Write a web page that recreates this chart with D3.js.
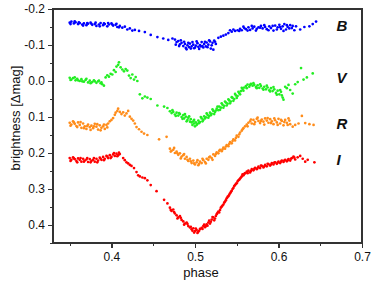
<!DOCTYPE html>
<html>
<head>
<meta charset="utf-8">
<script src="https://cdn.jsdelivr.net/npm/d3@7"></script>
<style>
  body { margin: 0; background: #fff; }
  svg text { font-family: "Liberation Sans", Arial, sans-serif; }
  .axis path { display: none; }
  .axis line { stroke: #333; stroke-width: 1.2; shape-rendering: crispEdges; }
  .axis text { font-size: 12px; fill: #111; }
</style>
</head>
<body>
<svg width="375" height="283"></svg>
<script>
// phase, brightness [dmag]
var bandB = [[0.350,-0.162],[0.352,-0.165],[0.355,-0.160],[0.357,-0.163],[0.360,-0.158],[0.362,-0.161],[0.365,-0.157],[0.367,-0.160],[0.370,-0.155],[0.372,-0.159],[0.375,-0.162],[0.377,-0.156],[0.380,-0.158],[0.382,-0.153],[0.385,-0.157],[0.387,-0.161],[0.390,-0.155],[0.392,-0.158],[0.395,-0.152],[0.397,-0.157],[0.400,-0.160],[0.402,-0.154],[0.405,-0.156],[0.407,-0.150],[0.410,-0.153],
  [0.413,-0.148],[0.416,-0.151],[0.419,-0.143],[0.422,-0.146],[0.425,-0.140],[0.428,-0.142],[0.433,-0.139],[0.440,-0.136],[0.447,-0.128],[0.455,-0.122],[0.462,-0.118],[0.468,-0.114],[0.473,-0.118],
  [0.476,-0.115],[0.478,-0.108],[0.480,-0.111],[0.482,-0.102],[0.484,-0.106],[0.486,-0.097],[0.488,-0.103],[0.489,-0.092],[0.491,-0.099],[0.493,-0.094],[0.494,-0.104],[0.496,-0.096],[0.498,-0.101],[0.499,-0.091],[0.501,-0.098],[0.503,-0.105],[0.504,-0.095],[0.506,-0.100],[0.508,-0.108],[0.509,-0.097],[0.511,-0.103],[0.513,-0.096],[0.514,-0.107],[0.516,-0.101],[0.518,-0.110],[0.519,-0.090],[0.521,-0.106],[0.523,-0.112],[0.525,-0.103],
  [0.528,-0.120],[0.531,-0.123],[0.534,-0.126],[0.537,-0.129],[0.540,-0.133],[0.542,-0.141],[0.544,-0.137],[0.546,-0.143],[0.548,-0.139],
  [0.551,-0.141],[0.554,-0.145],[0.556,-0.141],[0.559,-0.147],[0.561,-0.144],[0.564,-0.149],[0.566,-0.142],[0.569,-0.146],[0.571,-0.151],[0.574,-0.145],[0.576,-0.149],[0.579,-0.153],[0.581,-0.146],[0.584,-0.150],[0.586,-0.144],[0.589,-0.152],[0.591,-0.147],[0.594,-0.140],[0.596,-0.154],[0.599,-0.149],[0.601,-0.156],[0.603,-0.145],[0.605,-0.152],[0.607,-0.158],[0.609,-0.143],[0.611,-0.150],[0.614,-0.155],[0.616,-0.147],[0.619,-0.141],[0.621,-0.152],
  [0.626,-0.143],[0.631,-0.150],[0.637,-0.152],[0.641,-0.158],[0.645,-0.165],
  [0.351,-0.158],[0.356,-0.166],[0.361,-0.163],[0.366,-0.154],[0.371,-0.161],[0.376,-0.159],[0.381,-0.162],[0.386,-0.152],[0.391,-0.160],[0.396,-0.161],[0.401,-0.157],[0.406,-0.159],[0.409,-0.149],
  [0.477,-0.101],[0.481,-0.097],[0.483,-0.113],[0.487,-0.109],[0.490,-0.088],[0.492,-0.106],[0.495,-0.090],[0.497,-0.108],[0.500,-0.093],[0.502,-0.110],[0.505,-0.089],[0.507,-0.096],[0.510,-0.093],[0.512,-0.109],[0.515,-0.094],[0.517,-0.113],[0.520,-0.099],[0.522,-0.087],[0.524,-0.109],
  [0.553,-0.139],[0.558,-0.151],[0.563,-0.140],[0.568,-0.153],[0.573,-0.140],[0.578,-0.148],[0.583,-0.155],[0.588,-0.141],[0.593,-0.153],[0.598,-0.143],[0.602,-0.150],[0.606,-0.139],[0.610,-0.155],[0.613,-0.146],[0.617,-0.153]];

var bandV = [[0.350,-0.009],[0.352,-0.004],[0.354,-0.008],[0.357,-0.002],[0.359,-0.006],[0.362,0.000],[0.364,-0.005],[0.367,0.002],[0.369,-0.003],[0.372,0.004],[0.374,-0.001],[0.377,0.003],[0.379,-0.002],[0.382,0.005],[0.384,0.001],[0.387,0.006],[0.389,0.009],[0.391,0.013],
  [0.393,-0.010],[0.395,-0.016],[0.397,-0.012],[0.399,-0.020],[0.401,-0.018],[0.403,-0.030],[0.405,-0.025],[0.406,-0.040],[0.408,-0.045],[0.409,-0.052],[0.411,-0.038],[0.413,-0.032],[0.415,-0.027],[0.417,-0.033],[0.419,-0.029],[0.421,-0.015],[0.423,-0.008],[0.425,-0.018],[0.427,-0.004],[0.429,-0.011],[0.431,0.000],
  [0.434,0.037],[0.437,0.048],[0.440,0.043],[0.443,0.046],[0.447,0.050],[0.455,0.068],[0.463,0.071],[0.467,0.075],
  [0.470,0.084],[0.472,0.089],[0.474,0.086],[0.476,0.093],[0.478,0.088],[0.480,0.096],[0.482,0.092],[0.484,0.100],[0.486,0.095],[0.487,0.104],[0.489,0.099],[0.491,0.108],[0.492,0.102],[0.494,0.113],[0.495,0.106],[0.497,0.122],[0.498,0.112],[0.499,0.118],[0.500,0.126],[0.501,0.115],[0.503,0.119],[0.504,0.110],[0.506,0.114],
  [0.508,0.104],[0.510,0.108],[0.511,0.098],[0.513,0.101],[0.515,0.094],[0.517,0.097],[0.518,0.088],[0.520,0.091],[0.522,0.083],[0.524,0.086],[0.526,0.077],[0.528,0.081],[0.529,0.071],[0.531,0.074],[0.533,0.066],[0.535,0.069],[0.537,0.060],[0.539,0.063],[0.541,0.054],[0.543,0.057],[0.545,0.047],[0.547,0.050],[0.549,0.040],[0.551,0.042],[0.553,0.033],[0.555,0.028],[0.557,0.022],[0.559,0.018],
  [0.561,0.014],[0.563,0.010],[0.565,0.016],[0.567,0.008],[0.569,0.013],[0.571,0.011],[0.573,0.017],[0.575,0.012],[0.577,0.019],[0.579,0.014],[0.581,0.021],[0.583,0.016],[0.585,0.023],[0.587,0.018],[0.589,0.026],[0.591,0.020],[0.593,0.028],[0.595,0.023],[0.597,0.033],[0.599,0.027],[0.601,0.037],[0.603,0.030],[0.605,0.046],[0.606,0.052],
  [0.608,0.016],[0.610,0.020],[0.612,0.011],[0.614,0.025],[0.617,0.035],[0.620,0.009],[0.623,0.003],[0.627,-0.036],[0.630,-0.004],[0.634,-0.010],[0.641,-0.021],
  [0.351,-0.003],[0.356,-0.010],[0.360,-0.002],[0.365,0.001],[0.370,-0.006],[0.375,0.006],[0.380,0.001],[0.385,-0.001],[0.388,0.004],
  [0.473,0.081],[0.477,0.097],[0.481,0.089],[0.485,0.105],[0.488,0.092],[0.490,0.112],[0.493,0.098],[0.496,0.115],[0.499,0.108],[0.502,0.122],[0.505,0.117],[0.507,0.100],
  [0.509,0.112],[0.512,0.104],[0.514,0.090],[0.516,0.102],[0.519,0.095],[0.521,0.079],[0.523,0.092],[0.525,0.082],[0.527,0.071],[0.530,0.080],[0.532,0.062],[0.534,0.074],[0.536,0.057],[0.538,0.068],[0.540,0.051],[0.542,0.062],[0.544,0.045],[0.546,0.055],[0.548,0.036],[0.550,0.047],[0.552,0.030],[0.554,0.037],[0.556,0.019],[0.558,0.027],
  [0.562,0.020],[0.566,0.011],[0.570,0.006],[0.574,0.020],[0.578,0.009],[0.582,0.024],[0.586,0.013],[0.590,0.029],[0.594,0.017],[0.598,0.038],[0.602,0.025],[0.604,0.040]];

var bandR = [[0.350,0.116],[0.352,0.121],[0.354,0.112],[0.356,0.119],[0.358,0.125],[0.360,0.115],[0.362,0.122],[0.364,0.130],[0.366,0.118],[0.368,0.126],[0.370,0.133],[0.372,0.121],[0.374,0.128],[0.376,0.124],[0.378,0.131],[0.380,0.119],[0.382,0.127],[0.384,0.135],[0.386,0.123],[0.388,0.130],[0.390,0.126],[0.392,0.133],[0.394,0.122],[0.396,0.118],
  [0.398,0.112],[0.400,0.108],[0.402,0.103],[0.404,0.094],[0.405,0.088],[0.407,0.083],[0.408,0.077],[0.410,0.086],[0.412,0.092],[0.414,0.087],[0.416,0.096],[0.418,0.090],[0.420,0.083],[0.422,0.099],[0.424,0.105],[0.426,0.110],[0.428,0.118],[0.430,0.128],[0.433,0.134],[0.436,0.141],[0.439,0.146],[0.443,0.150],
  [0.457,0.162],[0.466,0.155],
  [0.470,0.188],[0.472,0.194],[0.474,0.191],[0.476,0.200],[0.478,0.196],[0.480,0.205],[0.482,0.201],[0.484,0.210],[0.486,0.206],[0.488,0.216],[0.490,0.211],[0.492,0.222],[0.494,0.216],[0.496,0.228],[0.498,0.221],[0.500,0.232],[0.502,0.226],[0.504,0.234],[0.506,0.224],
  [0.508,0.228],[0.510,0.220],[0.512,0.225],[0.514,0.216],[0.516,0.219],[0.518,0.210],[0.520,0.214],[0.522,0.204],[0.524,0.208],[0.526,0.198],[0.528,0.201],[0.530,0.191],[0.532,0.195],[0.534,0.185],[0.536,0.188],[0.538,0.178],[0.540,0.181],[0.542,0.170],[0.544,0.173],[0.546,0.162],[0.548,0.165],[0.550,0.152],[0.552,0.155],[0.554,0.143],[0.556,0.138],[0.558,0.131],[0.560,0.126],
  [0.562,0.121],[0.564,0.116],[0.566,0.112],[0.568,0.118],[0.570,0.108],[0.572,0.114],[0.574,0.105],[0.576,0.111],[0.578,0.117],[0.580,0.107],[0.582,0.113],[0.584,0.104],[0.586,0.110],[0.588,0.116],[0.590,0.106],[0.592,0.112],[0.594,0.120],[0.596,0.109],[0.598,0.115],[0.600,0.105],[0.602,0.118],[0.604,0.111],[0.606,0.123],[0.608,0.108],[0.610,0.116],[0.612,0.104],[0.614,0.120],
  [0.617,0.127],[0.620,0.122],[0.624,0.118],[0.628,0.097],[0.632,0.117],[0.637,0.120],[0.642,0.122],
  [0.351,0.124],[0.355,0.115],[0.359,0.128],[0.363,0.114],[0.367,0.131],[0.371,0.125],[0.375,0.136],[0.379,0.126],[0.383,0.120],[0.387,0.137],[0.391,0.121],[0.395,0.129],
  [0.471,0.196],[0.475,0.186],[0.479,0.201],[0.483,0.215],[0.487,0.203],[0.491,0.219],[0.495,0.223],[0.499,0.229],[0.503,0.220],[0.505,0.230],
  [0.509,0.216],[0.513,0.229],[0.517,0.212],[0.521,0.219],[0.525,0.203],[0.529,0.194],[0.533,0.190],[0.537,0.182],[0.541,0.175],[0.545,0.167],[0.549,0.158],[0.553,0.148],[0.557,0.134],
  [0.563,0.126],[0.567,0.107],[0.571,0.120],[0.575,0.102],[0.579,0.111],[0.583,0.121],[0.587,0.103],[0.591,0.117],[0.595,0.104],[0.599,0.122],[0.603,0.108],[0.607,0.114],[0.611,0.122],[0.613,0.110]];

var bandI = [[0.350,0.214],[0.352,0.219],[0.354,0.212],[0.356,0.217],[0.358,0.222],[0.360,0.215],[0.362,0.219],[0.364,0.224],[0.366,0.216],[0.368,0.221],[0.370,0.218],[0.372,0.225],[0.374,0.217],[0.376,0.222],[0.378,0.219],[0.380,0.224],[0.382,0.216],[0.384,0.221],[0.386,0.213],[0.388,0.219],[0.390,0.211],[0.392,0.216],[0.394,0.208],[0.396,0.214],[0.398,0.206],[0.400,0.211],[0.402,0.204],[0.404,0.208],[0.406,0.202],[0.408,0.206],[0.410,0.203],
  [0.414,0.214],[0.416,0.220],[0.418,0.226],[0.420,0.229],[0.422,0.233],[0.424,0.236],[0.427,0.242],[0.430,0.253],[0.432,0.262],[0.434,0.265],[0.437,0.268],[0.440,0.270],[0.443,0.276],[0.447,0.289],[0.454,0.306],[0.463,0.330],[0.467,0.340],
  [0.470,0.352],[0.472,0.361],[0.474,0.357],[0.476,0.368],[0.478,0.373],[0.480,0.379],[0.482,0.375],[0.484,0.386],[0.486,0.390],[0.488,0.396],[0.490,0.393],[0.492,0.403],[0.494,0.407],[0.496,0.412],[0.498,0.409],[0.500,0.417],[0.502,0.414],[0.504,0.419],[0.506,0.411],
  [0.508,0.408],[0.510,0.403],[0.512,0.406],[0.514,0.398],[0.516,0.393],[0.518,0.396],[0.520,0.385],[0.522,0.379],[0.524,0.382],[0.526,0.370],[0.528,0.363],[0.530,0.358],[0.532,0.349],[0.534,0.343],[0.536,0.335],[0.538,0.326],[0.540,0.320],[0.542,0.312],[0.544,0.305],[0.546,0.297],[0.548,0.289],[0.550,0.284],[0.552,0.276],[0.554,0.271],[0.556,0.265],[0.558,0.262],[0.560,0.256],
  [0.562,0.252],[0.564,0.249],[0.566,0.254],[0.568,0.245],[0.570,0.248],[0.572,0.241],[0.574,0.245],[0.576,0.238],[0.578,0.242],[0.580,0.236],[0.582,0.240],[0.584,0.233],[0.586,0.237],[0.588,0.231],[0.590,0.235],[0.592,0.228],[0.594,0.232],[0.596,0.226],[0.598,0.230],[0.600,0.224],[0.602,0.228],[0.604,0.221],[0.606,0.225],[0.608,0.219],[0.610,0.223],[0.612,0.217],[0.614,0.221],[0.616,0.214],[0.618,0.210],[0.620,0.218],[0.623,0.212],[0.626,0.208],[0.629,0.216],[0.632,0.224],[0.635,0.219],[0.643,0.226],
  [0.351,0.222],[0.355,0.215],[0.359,0.226],[0.363,0.214],[0.367,0.224],[0.371,0.214],[0.375,0.226],[0.379,0.214],[0.383,0.226],[0.387,0.216],[0.391,0.220],[0.395,0.210],[0.399,0.214],[0.403,0.200],[0.407,0.209],[0.409,0.199],
  [0.471,0.358],[0.475,0.364],[0.479,0.382],[0.483,0.380],[0.487,0.399],[0.491,0.397],[0.495,0.405],[0.497,0.416],[0.499,0.421],[0.501,0.410],[0.503,0.422],[0.505,0.416],
  [0.509,0.411],[0.511,0.399],[0.513,0.403],[0.515,0.402],[0.517,0.388],[0.519,0.391],[0.521,0.378],[0.523,0.387],[0.525,0.375],[0.527,0.366],[0.529,0.365],[0.531,0.352],[0.533,0.346],[0.535,0.338],[0.537,0.331],[0.539,0.322],[0.541,0.316],[0.543,0.308],[0.545,0.300],[0.547,0.292],[0.549,0.286],[0.551,0.279],[0.553,0.274],[0.555,0.268],[0.557,0.259],[0.559,0.258],
  [0.563,0.256],[0.567,0.250],[0.571,0.244],[0.575,0.242],[0.579,0.235],[0.583,0.237],[0.587,0.230],[0.591,0.232],[0.595,0.227],[0.599,0.227],[0.603,0.224],[0.607,0.221],[0.611,0.220],[0.615,0.216],[0.619,0.213]];

var bandNames = ["B", "V", "R", "I"];
var bandColors = ["#0000ff", "#22ee22", "#ff8c1a", "#ff0000"];
// label anchor (phase, baseline in dmag)
var bandLabelPos = [[0.66, -0.140], [0.66, 0.006], [0.66, 0.133], [0.66, 0.233]];

var xMajor = [0.4, 0.5, 0.6, 0.7];
var xMinor = [0.35, 0.45, 0.55, 0.65];
var xLabels = ["0.4", "0.5", "0.6", "0.7"];
var yMajor = [-0.2, -0.1, 0.0, 0.1, 0.2, 0.3, 0.4];
var yMinor = [-0.15, -0.05, 0.05, 0.15, 0.25, 0.35, 0.45];
var yLabels = ["-0.2", "-0.1", "0.0", "0.1", "0.2", "0.3", "0.4"];

var svg = d3.select("svg"),
    margin = {top: 9, right: 13, bottom: 40, left: 53},
    width = +svg.attr("width") - margin.left - margin.right,
    height = +svg.attr("height") - margin.top - margin.bottom,
    g = svg.append("g").attr("transform", "translate(" + margin.left + "," + margin.top + ")");

var x = d3.scaleLinear().domain([0.33, 0.7]).range([0, width]);
var y = d3.scaleLinear().domain([-0.2, 0.45]).range([0, height]);

// axes
g.append("g").attr("class", "axis")
    .attr("transform", "translate(0," + height + ")")
    .call(d3.axisBottom(x).tickValues(xMajor).tickSize(5).tickPadding(4)
        .tickFormat(function (d, i) { return xLabels[i]; }));
g.append("g").attr("class", "axis")
    .attr("transform", "translate(0," + height + ")")
    .call(d3.axisBottom(x).tickValues(xMinor).tickSize(3).tickFormat(""));
g.append("g").attr("class", "axis")
    .call(d3.axisLeft(y).tickValues(yMajor).tickSize(5).tickPadding(3)
        .tickFormat(function (d, i) { return yLabels[i]; }));
g.append("g").attr("class", "axis")
    .call(d3.axisLeft(y).tickValues(yMinor).tickSize(3).tickFormat(""));

// frame
g.append("rect")
    .attr("width", width)
    .attr("height", height)
    .attr("fill", "none")
    .attr("stroke", "#333")
    .attr("stroke-width", 1.2)
    .attr("shape-rendering", "crispEdges");

var bands = [bandB, bandV, bandR, bandI];
bands.forEach(function (data, k) {
    g.append("g").selectAll("circle")
        .data(data)
        .enter().append("circle")
        .attr("cx", function (d) { return x(d[0]); })
        .attr("cy", function (d) { return y(d[1]); })
        .attr("r", 1.35)
        .attr("fill", bandColors[k]);
});

g.selectAll(".band-label")
    .data(bandNames)
    .enter().append("text")
    .attr("class", "band-label")
    .attr("x", function (d, i) { return x(bandLabelPos[i][0]) + 8; })
    .attr("y", function (d, i) { return y(bandLabelPos[i][1]); })
    .attr("font-size", "15px")
    .attr("font-weight", "bold")
    .attr("font-style", "italic")
    .attr("fill", "#111")
    .text(function (d) { return d; });

svg.append("text")
    .attr("x", 201)
    .attr("y", 277)
    .attr("text-anchor", "middle")
    .attr("font-size", "13px")
    .attr("fill", "#111")
    .text("phase");

svg.append("text")
    .attr("transform", "translate(19.5,118) rotate(-90)")
    .attr("text-anchor", "middle")
    .attr("font-size", "13px")
    .attr("fill", "#111")
    .text("brightness [\u0394mag]");
</script>
</body>
</html>
